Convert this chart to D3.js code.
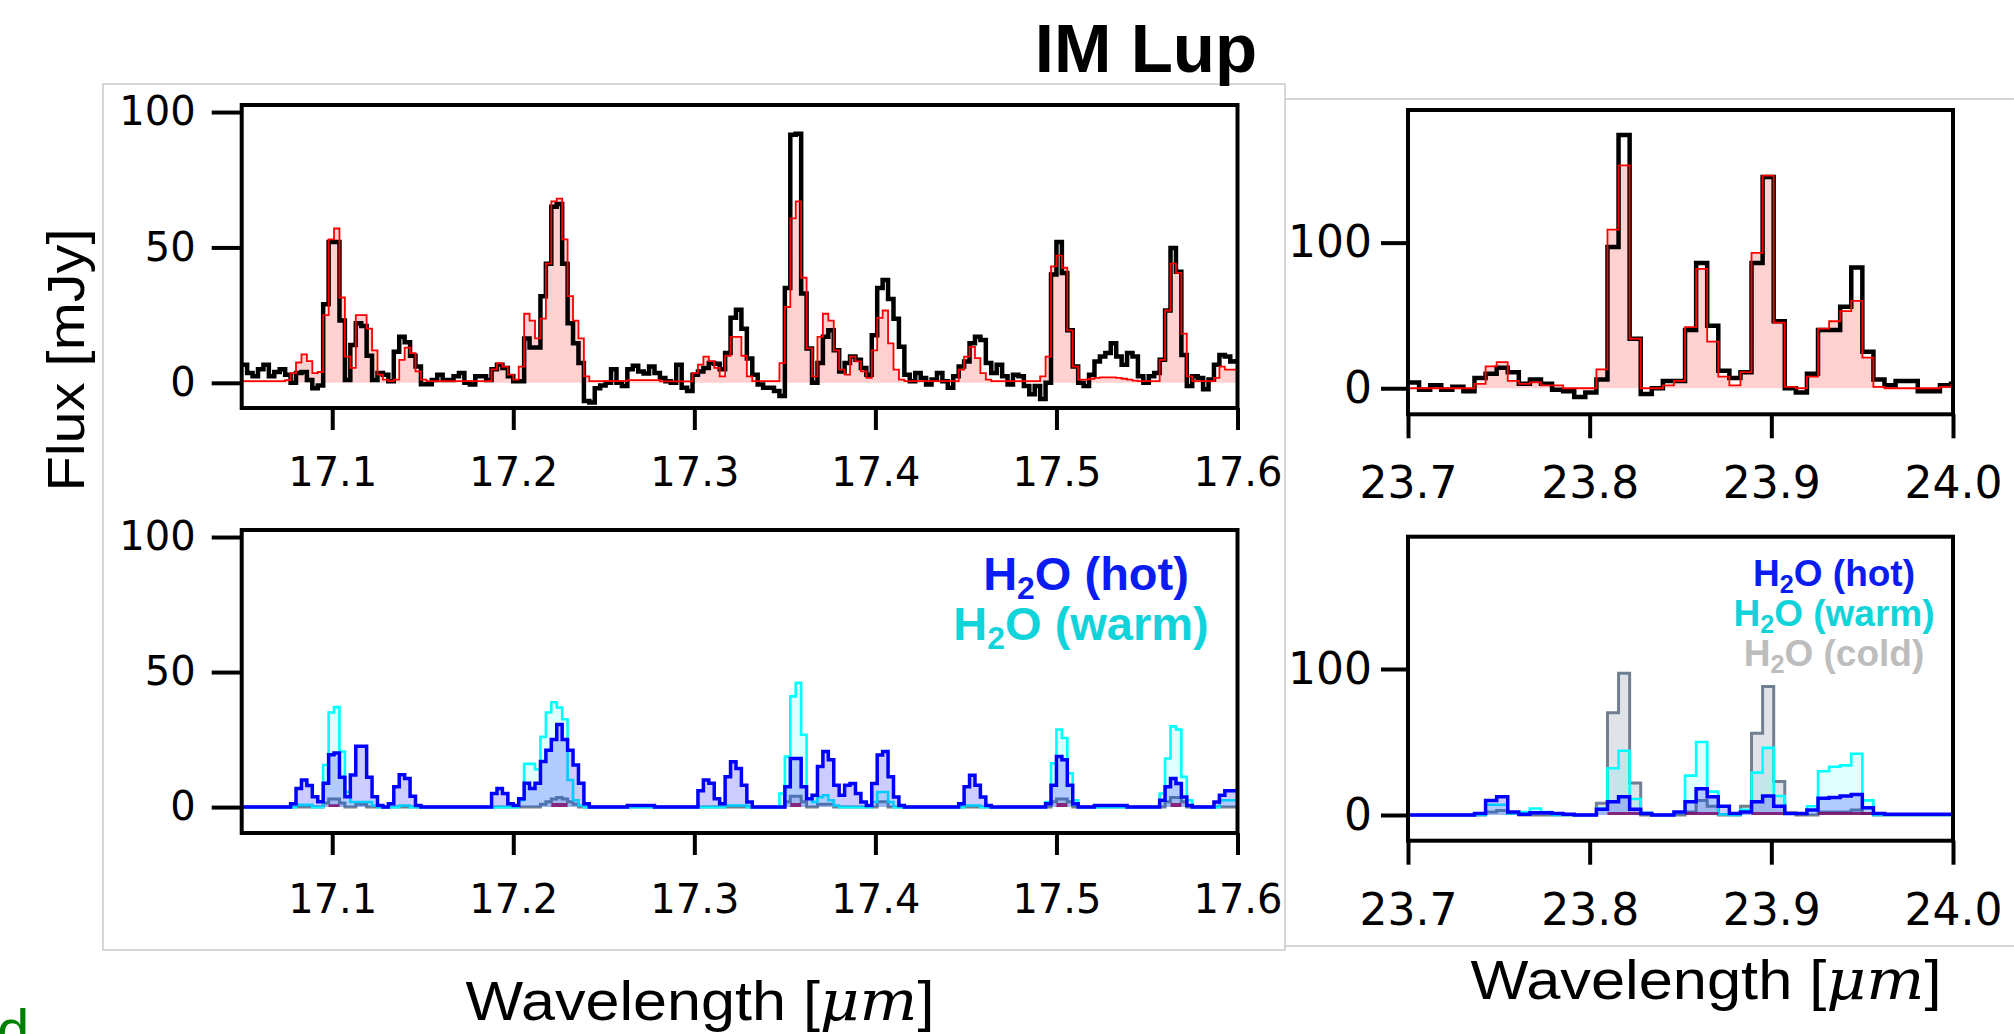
<!DOCTYPE html>
<html>
<head>
<meta charset="utf-8">
<script src="https://cdn.jsdelivr.net/npm/d3@7"></script>
<style>
body { margin: 0; background: #fff; }
svg { display: block; }
</style>
</head>
<body>
<script>
// wavelength grids (bin left edges = start + i*step)
var leftStart = 17.05, leftStep = 0.003;
var rightStart = 23.7, rightStep = 0.0061;

var leftXTicks = [17.1, 17.2, 17.3, 17.4, 17.5, 17.6];
var rightXTicks = [23.7, 23.8, 23.9, 24.0];
var leftYTicks = [0, 50, 100];
var rightYTicks = [0, 100];
var legendNames = ["(hot)", "(warm)", "(cold)"];

// observed spectrum, 17.05 - 17.6 um
var obsLeft = [6.7,3.6,2.4,5,6.7,2.4,4,5,3,0,
  3.6,4,1,-2,-1,29,52,52,23,1,
  14,22,21,10,1,3.6,3,0.6,11.5,17,
  15,10,6,-0.5,-0.5,1,3,1,1,2.4,
  3.6,0,-0.6,2.4,2.4,1,5,6.7,5.5,2.4,
  0.6,0.6,16.4,13,13,32,44,65,66,44,
  22,14.6,7.3,-6.7,-7.3,-2,-1,0,5,0,
  -1.2,5,6.3,4.2,3.4,6,3.6,1.8,0.6,0,
  6.7,-1.8,-3,3,4.2,5.5,7.3,7,5,11,
  24,27,20,9,3,-0.6,-1.8,-1.8,-3,-4.9,
  35,91.6,92,33,12.7,0,7.3,17,19.4,12,
  4.2,7.3,9.7,8.5,5.5,3,17.6,35,38,31,
  23.7,13.3,3,0.6,3.6,1.8,-0.6,1.2,3.6,0.6,
  -1.8,2.4,6,7.9,14.6,17,15.8,7.3,3.6,6.7,
  2.4,-0.6,3,2.4,-1.2,-4.2,-1.2,-6,0,40,
  52,40.6,19.4,6,0,-1.2,3,7.9,9.7,11,
  14.6,9.7,6.7,11,9.7,2.4,0,2.4,3.6,8.5,
  26.7,49.8,41,10.3,-1.2,2.4,1.8,-2.4,1.2,6.7,
  10.3,9.7,7.9,8];

// total model
var modelLeft = [0.6,0.6,0.6,0.6,0.6,0.6,0.6,0.6,1,3.6,
  7.5,10.5,8,3.6,4,25,53,57,31.5,9.7,
  5.5,25,25,20,12,3,1.2,0.6,1.2,8.5,
  13,11,4.2,1.2,0.6,0.6,0.6,0.6,0.6,0.6,
  0.6,0.6,0.6,0.6,0.6,0.6,5,7.3,6,3,
  1.2,6,25.5,23,16.4,23.7,44,67,68,53,
  32,23,16.4,2.4,0.6,0.6,0.6,0.6,0.6,0.6,
  0.6,1,1,1,1,1,1,0.5,0.5,0.5,
  0.5,0.5,0.5,3.6,6.7,9.7,8,5.5,2.4,10,
  17,17,10,2.4,0.6,0.6,0.6,0.6,0.6,7.3,
  28,60.7,67,38.8,12.7,2.4,17,25.5,23,12,
  4.9,3,9.7,7.9,4.2,1.8,12,24,26.7,14.6,
  4.9,1.2,0.6,0.6,0.6,0.6,0.6,0.6,0.6,0.6,
  0.6,0.6,4.9,9.7,13.3,9.1,3.6,1.2,0.6,0.6,
  0.6,0.6,0.6,0.6,0.6,0.6,0.6,2.4,9.7,43,
  47,42.5,19.4,6,1.2,1.2,1.5,1.8,2,2,
  2,1.8,1.5,1.2,0.8,0.6,0.6,0.6,0.6,8.5,
  26.7,44,40.6,18.2,2.4,0.6,0.6,0.6,0.6,1.8,
  6,4.9,4.9,4.9];

// model components
var hotLeft = [0,0,0,0,0,0,0,0,0,1.2,
  6.9,10,8,3.8,2,8.8,19.4,20,11,3.8,
  11.9,22.5,22.5,11,3.8,0.6,0,1.2,7.5,12,
  10.6,4,0.6,0,0,0,0,0,0,0,
  0,0,0,0,0,0,5,6.9,5,1.2,
  0.6,3.1,8.8,6.9,8.8,16.9,21,25,30.6,25,
  21,15.6,8.8,1.2,0,0,0,0,0,0,
  0,0.6,0.6,0.6,0.6,0.6,0,0,0,0,
  0,0,0,0,6,10,8.8,3.1,1.2,11.2,
  16.8,14.3,8.1,1.9,0,0,0,0,0,0,
  7.5,18,18,7.5,3.1,4.4,15,20.6,17.5,8.1,
  4.4,8.1,8.7,5,1.9,0.6,8.7,19.3,20.6,11.2,
  3.7,0.6,0,0,0,0,0,0,0,0,
  0,0,1.2,7.5,11.8,8.1,3.7,0.6,0,0,
  0,0,0,0,0,0,0,0,1.2,8.1,
  18.7,17.5,8.1,1.2,0,0,0,0.6,0.6,0.6,
  0.6,0.6,0.6,0,0,0,0,0,0,2.5,
  7.5,10.6,8.7,3.7,0.6,0,0,0,0,1.9,
  4.4,6,6,6];

var warmLeft = [0,0,0,0,0,0,0,0,0,0,
  0.8,0.8,0.8,0,0,15.6,35,37,20.6,5.6,
  1.9,1.9,1.9,1.9,0.6,0,0,0,0,0.6,
  0.6,0,0,0,0,0,0,0,0,0,
  0,0,0,0,0,0,0,0,0,0,
  0,2.5,16,16,14,26,35,38.8,36.9,32.5,
  10,2.5,0.6,0,0,0,0,0,0,0,
  0,0,0,0,0,0,0,0,0,0,
  0,0,0,0,0,0,0,0,0,0.6,
  0.6,0.6,0.6,0,0,0,0,0,0,5,
  18.7,41,46,26.8,3.1,1.9,3.7,4.4,2.5,0.6,
  0,0,0,0,0,0,1.9,5.6,5.6,1.9,
  0,0,0,0,0,0,0,0,0,0,
  0,0,0,0.6,0.6,0.6,0,0,0,0,
  0,0,0,0,0,0,0,0,1.9,16.2,
  28.7,25.6,12.5,2.5,0,0,0,0,0,0,
  0,0,0,0,0,0,0,0,0,5,
  18,29.9,28.7,11.2,2.5,0,0,0,0,0,
  2.5,2.5,2.5,2.5];

var coldLeft = [0,0,0,0,0,0,0,0,0,0,
  0,0,0,0,0,1.5,3,3,1.5,0,
  0,1,1,0,0,0,0,0,0,0,
  0,0,0,0,0,0,0,0,0,0,
  0,0,0,0,0,0,0,0,0,0,
  0,0,0,0,0,1,2,3,3.5,3,
  2,1,0,0,0,0,0,0,0,0,
  0,0,0,0,0,0,0,0,0,0,
  0,0,0,0,0,0,0,0,0,0,
  0,0,0,0,0,0,0,0,0,0,
  2,4,4,2,0,0,1,1,1,0,
  0,0,0,0,0,0,0,2,2,0,
  0,0,0,0,0,0,0,0,0,0,
  0,0,0,0,0,0,0,0,0,0,
  0,0,0,0,0,0,0,0,0,2,
  3,3,2,0,0,0,0,0,0,0,
  0,0,0,0,0,0,0,0,0,0,
  2,3.5,3.5,2,0,0,0,0,0,0,
  0,0,0,0];

var purpleLeft = [0,0,0,0,0,0,0,0,0,0,
  0,0,0,0,0,0,1,1,0,0,
  0,0,0,0,0,0,0,0,0,0,
  0,0,0,0,0,0,0,0,0,0,
  0,0,0,0,0,0,0,0,0,0,
  0,0,0,0,0,0,0,1.5,1.5,1.5,
  0,0,0,0,0,0,0,0,0,0,
  0,0,0,0,0,0,0,0,0,0,
  0,0,0,0,0,0,0,0,0,0,
  0,0,0,0,0,0,0,0,0,0,
  0,1.5,1.5,0,0,0,0,0,0,0,
  0,0,0,0,0,0,0,0,0,0,
  0,0,0,0,0,0,0,0,0,0,
  0,0,0,0,0,0,0,0,0,0,
  0,0,0,0,0,0,0,0,0,0,
  1.5,1.5,0,0,0,0,0,0,0,0,
  0,0,0,0,0,0,0,0,0,0,
  0,1.5,1.5,0,0,0,0,0,0,0,
  0,0,0,0];

// 23.7 - 24.0 um
var obsRight = [4,-1,2,-1,1,-2,7,10,14,11,
  3,6,3,-1,-2,-6,-3,6,97,174,
  34,-4,0,5,5,40,86,43,12,7,
  11,86,145,46,0,-3,10,40,40,56,
  83,25,6,2,5,5,-2,-2,2,3];
var modelRight = [0,0,0,0,0,0,3,15,18,5,
  3,4,2,2,0,0,0,13,109,153,
  34,0,0,2,5,42,82,32,8,2,
  11,93,146,45,1,0,8,41,46,53,
  60,21,1,0,0,0,0,0,1,2];
var hotRight = [0,0,0,0,0,0,1,10,12.5,2,
  0.5,1.5,1.5,1,0.5,0,0,4,9,12.5,
  4,1,0,0,2,9,18,12.5,6,1,
  2,9,13,6,1,1,3.5,11.5,12,13,
  14,5,1,0.5,0.5,0.5,0.5,0.5,0.5,0.5];
var warmRight = [0,0,0,0,0,0,0,7,7,1,
  2,4.5,2,0,0,0,0,4.5,32,44,
  11,1.5,0,0,1.5,27,50,16,0.5,0,
  3.5,29,46,13,1,1,6,30,33,34,
  42,10,0,0,0,0,0,0,0,0];
var coldRight = [0,0,0,0,0,0,0,2,3,1,
  0,0,0,0,0,0,0,8,70,97,
  22,0,0,0,0,2,10,6,0,0,
  6,56,88,23,1.5,0,0,2,2,2,
  3.5,1,0,0,0,0,0,0,0,0];
var purpleRight = [0,0,0,0,0,0,0,0,0,0,
  0,0,0,0,0,0,0,0,2,2,
  2,0,0,0,0,2,2,2,0,0,
  0,2,2,2,0,0,0,2,2,2,
  2,2,0,0,0,0,0,0,0,0];

var W = 2014, H = 1034;
var svg = d3.select("body").append("svg").attr("width", W).attr("height", H);
svg.append("rect").attr("width", W).attr("height", H).attr("fill", "#fff");

var sans = "'Liberation Sans', Arial, Helvetica, sans-serif";
var tickFont = "'DejaVu Sans', sans-serif";
var clipCount = 0;

// gray frames of the pasted images
var frames = svg.append("g").attr("fill", "none").attr("stroke", "#c9c9c9").attr("stroke-width", 1.5);
frames.append("rect").attr("x", 103).attr("y", 84).attr("width", 1182).attr("height", 866);
frames.append("line").attr("x1", 1285).attr("x2", W).attr("y1", 99).attr("y2", 99);
frames.append("line").attr("x1", 1285).attr("x2", W).attr("y1", 946).attr("y2", 946);

function steps(values, start, step) {
	var pts = values.map(function(v, i) { return [start + i * step, v]; });
	pts.push([start + values.length * step, values[values.length - 1]]);
	return pts;
}

function makePanel(p) {
	var x = d3.scaleLinear().domain(p.xDom).range([p.left, p.right]);
	var y = d3.scaleLinear().domain(p.yDom).range([p.bottom, p.top]);
	var id = "clip" + (clipCount++);
	svg.append("clipPath").attr("id", id).append("rect")
		.attr("x", p.left).attr("y", p.top)
		.attr("width", p.right - p.left).attr("height", p.bottom - p.top);
	var data = svg.append("g").attr("clip-path", "url(#" + id + ")");

	var line = d3.line().curve(d3.curveStepAfter)
		.x(function(d) { return x(d[0]); }).y(function(d) { return y(d[1]); });
	var area = d3.area().curve(d3.curveStepAfter)
		.x(function(d) { return x(d[0]); }).y0(y(0)).y1(function(d) { return y(d[1]); });

	p.series.forEach(function(s) {
		var pts = steps(s.values, p.start, p.step);
		if (s.fill) {
			data.append("path").attr("d", area(pts))
				.attr("fill", s.fill).attr("fill-opacity", s.fillOpacity);
		}
		if (s.stroke) {
			data.append("path").attr("d", line(pts))
				.attr("fill", "none").attr("stroke", s.stroke)
				.attr("stroke-width", s.width);
		}
	});

	// axes
	var xAxis = d3.axisBottom(x).tickValues(p.xTicks).tickSize(p.xTickLen)
		.tickPadding(p.xPad).tickFormat(d3.format(".1f"));
	var yAxis = d3.axisLeft(y).tickValues(p.yTicks).tickSize(p.yTickLen)
		.tickPadding(p.yPad).tickFormat(d3.format("d"));

	[svg.append("g").attr("transform", "translate(0," + p.bottom + ")").call(xAxis),
	 svg.append("g").attr("transform", "translate(" + p.left + ",0)").call(yAxis)]
	.forEach(function(ax) {
		ax.attr("font-family", tickFont).attr("font-size", p.fontSize);
		ax.select(".domain").remove();
		ax.selectAll(".tick line").attr("stroke", "#000").attr("stroke-width", 4);
		ax.selectAll(".tick text").attr("fill", "#000");
	});

	svg.append("rect")
		.attr("x", p.left).attr("y", p.top)
		.attr("width", p.right - p.left).attr("height", p.bottom - p.top)
		.attr("fill", "none").attr("stroke", "#000").attr("stroke-width", 4);
}

function topSeries(obs, model) {
	return [
		{ values: model, fill: "#ff0000", fillOpacity: 0.18 },
		{ values: obs, stroke: "#000", width: 4.5 },
		{ values: model, stroke: "#ff0000", width: 1.8 }
	];
}

function bottomSeries(hot, warm, cold, purple) {
	return [
		{ values: cold, fill: "#708090", fillOpacity: 0.22, stroke: "#708090", width: 3 },
		{ values: warm, fill: "#00ffff", fillOpacity: 0.12, stroke: "#00ffff", width: 2.6 },
		{ values: hot, fill: "#0000ff", fillOpacity: 0.2 },
		{ values: purple, fill: "#800060", fillOpacity: 0.8 },
		{ values: hot, stroke: "#0000ff", width: 3.5 }
	];
}

// left, upper
makePanel({ left: 241.7, right: 1237.5, top: 105, bottom: 408,
	xDom: [17.05, 17.6], yDom: [-9.3, 102.6], start: leftStart, step: leftStep,
	xTicks: leftXTicks, yTicks: leftYTicks, fontSize: 40,
	xTickLen: 22, yTickLen: 30, xPad: 28, yPad: 16,
	series: topSeries(obsLeft, modelLeft) });

// left, lower
makePanel({ left: 241.7, right: 1237.5, top: 530, bottom: 833,
	xDom: [17.05, 17.6], yDom: [-9.6, 102.6], start: leftStart, step: leftStep,
	xTicks: leftXTicks, yTicks: leftYTicks, fontSize: 40,
	xTickLen: 22, yTickLen: 30, xPad: 30, yPad: 16,
	series: bottomSeries(hotLeft, warmLeft, coldLeft, purpleLeft) });

// right, upper
makePanel({ left: 1408, right: 1953, top: 110, bottom: 414.3,
	xDom: [23.7, 24.0], yDom: [-17.9, 191.1], start: rightStart, step: rightStep,
	xTicks: rightXTicks, yTicks: rightYTicks, fontSize: 44,
	xTickLen: 24, yTickLen: 27, xPad: 28, yPad: 9,
	series: topSeries(obsRight, modelRight) });

// right, lower
makePanel({ left: 1408, right: 1953, top: 536.7, bottom: 840.7,
	xDom: [23.7, 24.0], yDom: [-17.6, 190.6], start: rightStart, step: rightStep,
	xTicks: rightXTicks, yTicks: rightYTicks, fontSize: 44,
	xTickLen: 24, yTickLen: 27, xPad: 29, yPad: 9,
	series: bottomSeries(hotRight, warmRight, coldRight, purpleRight) });

// legends
var legendColors = ["#0a1cf0", "#10d4da", "#bdbdbd"];
function legendLabel(x, yb, i, size) {
	var t = svg.append("text").attr("x", x).attr("y", yb).attr("text-anchor", "middle")
		.attr("font-family", sans).attr("font-weight", "bold")
		.attr("font-size", size).attr("fill", legendColors[i]);
	t.append("tspan").text("H");
	t.append("tspan").attr("dy", size * 0.2).attr("font-size", size * 0.68).text("2");
	t.append("tspan").attr("dy", -size * 0.2).text("O " + legendNames[i]);
}
legendLabel(1086, 590, 0, 47);
legendLabel(1081, 640, 1, 47);
legendLabel(1834, 586, 0, 37);
legendLabel(1834, 626, 1, 37);
legendLabel(1834, 666, 2, 37);

// title and axis labels
svg.append("text").attr("x", 1146).attr("y", 72).attr("text-anchor", "middle")
	.attr("font-family", sans).attr("font-weight", "bold").attr("font-size", 69)
	.text("IM Lup");

svg.append("text").attr("transform", "translate(84,360) rotate(-90)")
	.attr("text-anchor", "middle").attr("font-family", sans).attr("font-size", 52)
	.attr("textLength", 263).attr("lengthAdjust", "spacingAndGlyphs")
	.text("Flux [mJy]");

function wavelengthLabel(cx, yb, len) {
	var t = svg.append("text").attr("x", cx).attr("y", yb).attr("text-anchor", "middle")
		.attr("font-family", sans).attr("font-size", 56)
		.attr("textLength", len).attr("lengthAdjust", "spacingAndGlyphs");
	t.append("tspan").text("Wavelength [");
	t.append("tspan").attr("font-family", "'DejaVu Serif', serif").attr("font-style", "italic").text("\u03bcm");
	t.append("tspan").text("]");
}
wavelengthLabel(700, 1020, 469);
wavelengthLabel(1706, 999, 471);

// panel letter cut at the page edge, as in the source figure
svg.append("text").attr("x", -3).attr("y", 1050).attr("font-family", sans)
	.attr("font-size", 58).attr("fill", "#008000").text("d");
</script>
</body>
</html>
